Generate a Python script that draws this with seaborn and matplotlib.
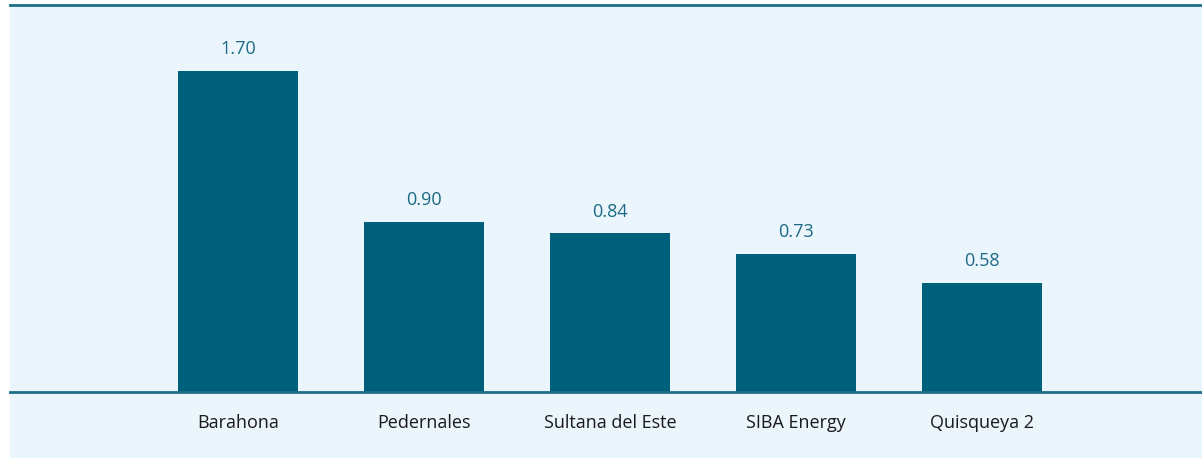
import matplotlib
matplotlib.use("Agg")
import matplotlib.pyplot as plt
import seaborn as sns
import pandas as pd
from matplotlib.patches import Rectangle

plantas = ["Barahona", "Pedernales", "Sultana del Este", "SIBA Energy", "Quisqueya 2"]
valores = [1.70, 0.90, 0.84, 0.73, 0.58]
etiquetas = ["1.70", "0.90", "0.84", "0.73", "0.58"]

df = pd.DataFrame({"planta": plantas, "valor": valores})

sns.set_theme(style="white")
plt.rcParams["font.family"] = ["Open Sans", "DejaVu Sans"]

bg = "#EAF5FC"
bar_color = "#005F7A"
line_color = "#1E6E8A"

fig = plt.figure(figsize=(12.02, 4.60), dpi=100)
fig.patch.set_facecolor("white")
# light panel behind the chart
panel = Rectangle((10 / 1202, 1 / 460), 1192 / 1202, 453 / 460,
                  transform=fig.transFigure, facecolor=bg,
                  edgecolor="none", zorder=-10)
fig.patches.append(panel)

ax = fig.add_axes([10 / 1202, (460 - 393) / 460, 1192 / 1202, 387 / 460])
ax.set_facecolor("none")
ax.set_zorder(1)

sns.barplot(data=df, x="planta", y="valor", color=bar_color, width=0.645,
            saturation=1, linewidth=0, ax=ax)

ax.set_xlim(-1.226, 5.183)
ax.set_ylim(0, 2.05)

for i, (v, t) in enumerate(zip(valores, etiquetas)):
    ax.annotate(t, (i, v), xytext=(0, 10), textcoords="offset points",
                ha="center", va="bottom", fontsize=13, color="#1C6A85")

for s in ["left", "right"]:
    ax.spines[s].set_visible(False)
ax.spines["bottom"].set_color(line_color)
ax.spines["bottom"].set_linewidth(2)
ax.spines["top"].set_color(line_color)
ax.spines["top"].set_linewidth(2)

ax.set_yticks([])
ax.set_xlabel("")
ax.set_ylabel("")
ax.tick_params(axis="x", length=0, pad=15, labelsize=13, labelcolor="#1a1a1a")

fig.savefig("out.png", dpi=100, facecolor=fig.get_facecolor())
